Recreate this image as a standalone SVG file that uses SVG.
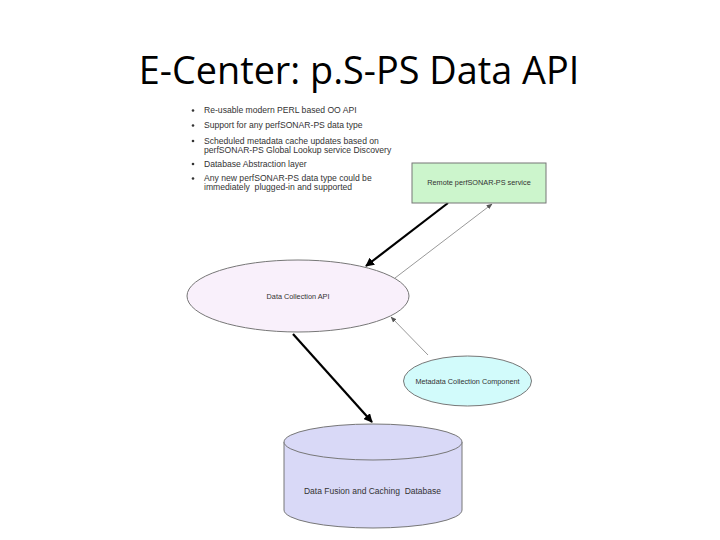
<svg xmlns="http://www.w3.org/2000/svg" width="720" height="540" viewBox="0 0 720 540">
<style>
.t{font-family:"Liberation Sans",Arial,sans-serif;font-size:8.6px;fill:#333}
.n{font-family:"Liberation Sans",Arial,sans-serif;font-size:7.3px;fill:#333}
.title{font-family:"Open Sans","Liberation Sans",sans-serif;font-size:37.8px;fill:#000}
.node{stroke:#777;stroke-width:1}
.thick{stroke:#000;stroke-width:2.2;fill:none}
.thin{stroke:#999;stroke-width:1;fill:none}
</style>
<defs>
<marker id="ab" viewBox="0 0 10 10" refX="9" refY="5" markerWidth="4" markerHeight="4" orient="auto" markerUnits="strokeWidth"><path d="M0,0L10,5L0,10z" fill="#000"/></marker>
<marker id="ag" viewBox="0 0 10 10" refX="9" refY="5" markerWidth="6" markerHeight="6" orient="auto" markerUnits="strokeWidth"><path d="M0,1L10,5L0,9z" fill="#555"/></marker>
</defs>
<rect width="720" height="540" fill="#fff"/>
<text class="title" x="359" y="84" text-anchor="middle">E-Center: p.S-PS Data API</text>
<g id="bullets" class="t">
<circle cx="193" cy="110.5" r="1.3" fill="#333"/><text x="204" y="113">Re-usable modern PERL based OO API</text>
<circle cx="193" cy="125.5" r="1.3" fill="#333"/><text x="204" y="128">Support for any perfSONAR-PS data type</text>
<circle cx="193" cy="141" r="1.3" fill="#333"/><text x="204" y="143.5">Scheduled metadata cache updates based on</text>
<text x="204" y="153">perfSONAR-PS Global Lookup service Discovery</text>
<circle cx="193" cy="164" r="1.3" fill="#333"/><text x="204" y="166.5">Database Abstraction layer</text>
<circle cx="193" cy="178.5" r="1.3" fill="#333"/><text x="204" y="181">Any new perfSONAR-PS data type could be</text>
<text x="204" y="190" xml:space="preserve">immediately  plugged-in and supported</text>
</g>
<g id="connectors">
<line class="thick" x1="448" y1="203" x2="366" y2="266" marker-end="url(#ab)"/>
<line class="thin" x1="395" y1="278" x2="492" y2="204" marker-end="url(#ag)"/>
<line class="thin" x1="428" y1="355" x2="391" y2="317" marker-end="url(#ag)"/>
<line class="thick" x1="293" y1="334" x2="372" y2="422" marker-end="url(#ab)"/>
</g>
<g id="remote">
<rect class="node" x="412" y="163" width="134" height="40" fill="#ccf5cc"/>
<text class="n" x="479" y="185" text-anchor="middle">Remote perfSONAR-PS service</text>
</g>
<g id="dca">
<ellipse class="node" cx="298" cy="296" rx="111" ry="36" fill="#f9f0fb"/>
<text class="n" x="298" y="298.5" text-anchor="middle">Data Collection API</text>
</g>
<g id="mcc">
<ellipse class="node" cx="467.5" cy="381" rx="64" ry="25" fill="#d2fbfb"/>
<text class="n" x="467.5" y="384" text-anchor="middle">Metadata Collection Component</text>
</g>
<g id="db">
<path class="node" d="M284,442 L284,510 A89,18 0 0 0 462,510 L462,442" fill="#d9d9f7"/>
<ellipse class="node" cx="373" cy="442" rx="89" ry="18" fill="#d9d9f7"/>
<text class="n" x="372.5" y="494" text-anchor="middle" xml:space="preserve" style="font-size:8.5px">Data Fusion and Caching  Database</text>
</g>
</svg>
